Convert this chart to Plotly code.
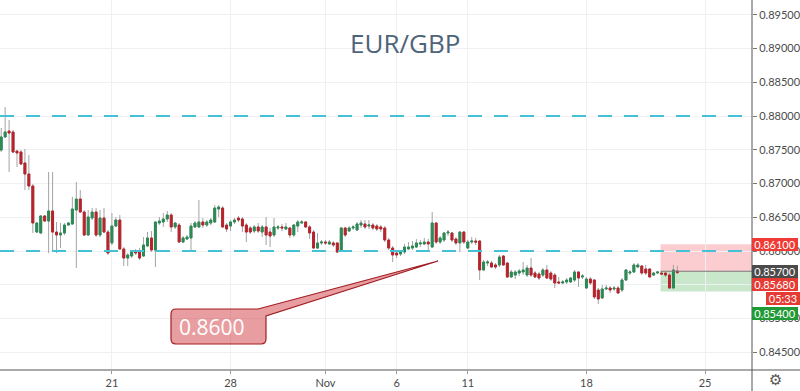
import plotly.graph_objects as go
import pandas as pd

# ---------------- data (EUR/GBP, 4H candles) ----------------
open_ = [
0.87496, 0.87689, 0.87778, 0.87763, 0.87481, 0.87467, 0.87304, 0.87141, 0.86963, 0.86281,
0.86267, 0.86519, 0.86444, 0.86593, 0.86281, 0.86237, 0.86267, 0.86385, 0.86400, 0.86607,
0.86770, 0.86578, 0.86237, 0.86489, 0.86578, 0.86237, 0.86489, 0.86281, 0.86119, 0.86370,
0.86459, 0.86030, 0.85896, 0.85926, 0.86000, 0.85985, 0.85926, 0.86074, 0.86193, 0.86015,
0.86415, 0.86430, 0.86474, 0.86533, 0.86356, 0.86385, 0.86133, 0.86178, 0.86193, 0.86356,
0.86356, 0.86430, 0.86385, 0.86415, 0.86430, 0.86622, 0.86637, 0.86385, 0.86370, 0.86430,
0.86489, 0.86474, 0.86385, 0.86341, 0.86296, 0.86356, 0.86281, 0.86356, 0.86281, 0.86237,
0.86341, 0.86356, 0.86326, 0.86341, 0.86237, 0.86370, 0.86415, 0.86430, 0.86356, 0.86281,
0.86044, 0.86119, 0.86133, 0.86104, 0.86119, 0.86119, 0.86015, 0.86341, 0.86296, 0.86341,
0.86311, 0.86385, 0.86400, 0.86370, 0.86385, 0.86370, 0.86356, 0.86341, 0.86163, 0.86044,
0.85970, 0.85956, 0.85985, 0.86030, 0.86044, 0.86059, 0.86104, 0.86104, 0.86133, 0.86059,
0.86415, 0.86133, 0.86163, 0.86267, 0.86267, 0.86178, 0.86119, 0.86281, 0.86044, 0.86133,
0.86148, 0.86148, 0.85719, 0.85822, 0.85822, 0.85793, 0.85793, 0.85926, 0.85822, 0.85615,
0.85644, 0.85674, 0.85689, 0.85644, 0.85748, 0.85674, 0.85659, 0.85644, 0.85719, 0.85674,
0.85644, 0.85541, 0.85526, 0.85541, 0.85541, 0.85570, 0.85689, 0.85615, 0.85452, 0.85585,
0.85570, 0.85422, 0.85304, 0.85437, 0.85452, 0.85437, 0.85452, 0.85422, 0.85570, 0.85674,
0.85689, 0.85763, 0.85778, 0.85733, 0.85733, 0.85644, 0.85674, 0.85674, 0.85674, 0.85644,
0.85452, 0.85704]

high_ = [
0.87822, 0.88133, 0.87941, 0.87793, 0.87496, 0.87496, 0.87511, 0.87422, 0.86993, 0.86430,
0.86533, 0.86533, 0.87170, 0.87170, 0.86430, 0.86415, 0.86415, 0.86430, 0.86800, 0.87022,
0.86904, 0.86607, 0.86607, 0.86637, 0.86637, 0.86607, 0.86637, 0.86311, 0.86563, 0.86504,
0.86533, 0.86059, 0.85970, 0.86000, 0.86030, 0.86044, 0.86207, 0.86281, 0.86296, 0.86430,
0.86504, 0.86563, 0.86593, 0.86563, 0.86430, 0.86415, 0.86222, 0.86237, 0.86415, 0.86444,
0.86756, 0.86489, 0.86459, 0.86489, 0.86681, 0.86681, 0.86667, 0.86415, 0.86459, 0.86489,
0.86519, 0.86504, 0.86415, 0.86370, 0.86385, 0.86415, 0.86385, 0.86504, 0.86341, 0.86489,
0.86385, 0.86400, 0.86415, 0.86356, 0.86400, 0.86459, 0.86459, 0.86444, 0.86385, 0.86311,
0.86267, 0.86163, 0.86163, 0.86163, 0.86148, 0.86133, 0.86356, 0.86356, 0.86370, 0.86385,
0.86430, 0.86459, 0.86459, 0.86459, 0.86415, 0.86400, 0.86385, 0.86370, 0.86193, 0.86074,
0.86000, 0.86015, 0.86104, 0.86133, 0.86148, 0.86178, 0.86163, 0.86193, 0.86178, 0.86578,
0.86430, 0.86222, 0.86281, 0.86311, 0.86281, 0.86207, 0.86296, 0.86296, 0.86163, 0.86207,
0.86193, 0.86163, 0.85867, 0.85867, 0.85852, 0.85822, 0.85941, 0.85941, 0.85837, 0.85719,
0.85719, 0.85733, 0.85837, 0.85793, 0.85896, 0.85704, 0.85689, 0.85748, 0.85793, 0.85704,
0.85674, 0.85615, 0.85570, 0.85600, 0.85615, 0.85719, 0.85704, 0.85659, 0.85615, 0.85615,
0.85585, 0.85452, 0.85496, 0.85496, 0.85481, 0.85481, 0.85481, 0.85600, 0.85733, 0.85719,
0.85822, 0.85822, 0.85793, 0.85793, 0.85748, 0.85689, 0.85704, 0.85704, 0.85689, 0.85674,
0.85793, 0.85778]

low_ = [
0.87467, 0.87674, 0.87170, 0.87452, 0.87244, 0.87274, 0.86904, 0.86904, 0.86267, 0.86267,
0.86252, 0.86430, 0.85970, 0.85985, 0.85970, 0.86044, 0.86237, 0.86370, 0.86385, 0.85748,
0.86563, 0.86222, 0.86222, 0.86459, 0.86207, 0.86207, 0.86267, 0.85941, 0.86089, 0.86356,
0.86015, 0.85778, 0.85778, 0.85896, 0.85941, 0.85867, 0.85911, 0.86059, 0.85985, 0.85763,
0.86385, 0.86356, 0.86430, 0.86281, 0.86326, 0.86119, 0.86119, 0.86163, 0.85985, 0.86341,
0.86341, 0.86341, 0.86356, 0.86385, 0.86415, 0.86504, 0.86341, 0.86281, 0.86296, 0.86400,
0.86430, 0.86281, 0.86133, 0.86252, 0.86267, 0.86267, 0.86207, 0.86089, 0.86059, 0.86207,
0.86311, 0.86296, 0.86311, 0.86193, 0.86207, 0.86281, 0.86400, 0.86341, 0.86178, 0.86030,
0.86030, 0.86089, 0.86089, 0.86089, 0.86059, 0.85970, 0.86000, 0.86207, 0.86281, 0.86311,
0.86296, 0.86341, 0.86326, 0.86326, 0.86311, 0.86296, 0.86281, 0.86133, 0.86015, 0.85837,
0.85896, 0.85926, 0.85956, 0.86015, 0.86015, 0.86044, 0.86059, 0.86089, 0.86015, 0.86044,
0.86104, 0.86104, 0.86133, 0.86222, 0.86133, 0.86089, 0.85985, 0.86104, 0.86030, 0.86104,
0.86089, 0.85570, 0.85704, 0.85778, 0.85748, 0.85733, 0.85763, 0.85778, 0.85600, 0.85600,
0.85585, 0.85630, 0.85644, 0.85615, 0.85615, 0.85600, 0.85570, 0.85615, 0.85585, 0.85556,
0.85452, 0.85511, 0.85511, 0.85511, 0.85526, 0.85541, 0.85467, 0.85585, 0.85437, 0.85496,
0.85289, 0.85215, 0.85289, 0.85422, 0.85378, 0.85407, 0.85363, 0.85393, 0.85556, 0.85644,
0.85674, 0.85748, 0.85644, 0.85644, 0.85615, 0.85630, 0.85659, 0.85644, 0.85615, 0.85437,
0.85437, 0.85659]

close_ = [
0.87689, 0.87763, 0.87748, 0.87467, 0.87452, 0.87289, 0.87141, 0.86963, 0.86415, 0.86415,
0.86519, 0.86444, 0.86593, 0.86281, 0.86237, 0.86267, 0.86385, 0.86415, 0.86622, 0.86770,
0.86578, 0.86237, 0.86504, 0.86578, 0.86237, 0.86489, 0.86281, 0.85970, 0.86370, 0.86459,
0.86030, 0.85896, 0.85941, 0.85985, 0.85970, 0.85896, 0.86089, 0.86193, 0.86015, 0.86430,
0.86444, 0.86474, 0.86533, 0.86356, 0.86415, 0.86133, 0.86193, 0.86207, 0.86370, 0.86415,
0.86430, 0.86385, 0.86430, 0.86459, 0.86637, 0.86652, 0.86356, 0.86326, 0.86430, 0.86459,
0.86459, 0.86370, 0.86281, 0.86281, 0.86356, 0.86296, 0.86356, 0.86237, 0.86222, 0.86356,
0.86356, 0.86341, 0.86356, 0.86237, 0.86385, 0.86430, 0.86430, 0.86356, 0.86267, 0.86044,
0.86119, 0.86133, 0.86119, 0.86133, 0.86089, 0.85985, 0.86341, 0.86237, 0.86341, 0.86356,
0.86400, 0.86415, 0.86356, 0.86385, 0.86341, 0.86326, 0.86326, 0.86163, 0.86044, 0.85941,
0.85941, 0.85985, 0.86059, 0.86059, 0.86074, 0.86119, 0.86119, 0.86133, 0.86104, 0.86415,
0.86133, 0.86193, 0.86267, 0.86281, 0.86163, 0.86119, 0.86281, 0.86133, 0.86133, 0.86148,
0.86133, 0.85719, 0.85837, 0.85837, 0.85763, 0.85763, 0.85911, 0.85793, 0.85615, 0.85689,
0.85689, 0.85704, 0.85719, 0.85748, 0.85644, 0.85615, 0.85600, 0.85719, 0.85600, 0.85585,
0.85526, 0.85526, 0.85541, 0.85570, 0.85600, 0.85689, 0.85600, 0.85630, 0.85585, 0.85526,
0.85319, 0.85289, 0.85437, 0.85452, 0.85422, 0.85452, 0.85378, 0.85570, 0.85719, 0.85689,
0.85793, 0.85793, 0.85674, 0.85674, 0.85615, 0.85674, 0.85689, 0.85659, 0.85644, 0.85452,
0.85719, 0.85680]

first_bar = "2019-10-14 08:00"
x_range = ["2019-10-14 06:48", "2019-11-26 23:30"]
x_tick_dates = ["2019-10-21", "2019-10-28", "2019-11-01", "2019-11-06",
                "2019-11-11", "2019-11-18", "2019-11-25"]
x_tick_text = ["21", "28", "Nov", "6", "11", "18", "25"]
y_range = [0.84237, 0.89719]
y_ticks = [0.845, 0.850, 0.855, 0.860, 0.865, 0.870, 0.875, 0.880, 0.885, 0.890, 0.895]
y_hidden = [0.855]  # fully covered by the price labels in the original
levels = [0.880, 0.860]
stop_price, entry_price, target_price = 0.861, 0.857, 0.854
last_price = 0.8568
position_start, position_end = "2019-11-21 03:00", "2019-11-29 00:00"
callout_text = "0.8600"

# 4H bar timestamps, trading days only
slots = pd.date_range(first_bar, periods=400, freq="4h")
dates = [d.strftime("%Y-%m-%d %H:%M") for d in slots if d.weekday() < 5][:len(close_)]
y_tick_text = ["" if v in y_hidden else f"{v:.5f}" for v in y_ticks]

# ---------------- style ----------------
W, H = 800, 391
ML, MR, MT, MB = 0, 48, 0, 21
PW, PH = W - ML - MR, H - MT - MB
FONT = "Lato"
UP, DOWN, WICK = "#2a8a55", "#b8232b", "#a3a3a3"
GRID = "#eef0f3"
CYAN = "#45c0d5"
AXIS = "#555555"
TXT = "#4a4a4a"


def px(x):
    return x / PW


def py(y):
    return 1 - y / PH


fig = go.Figure()
fig.add_trace(go.Candlestick(
    x=dates, open=open_, high=high_, low=low_, close=close_,
    increasing=dict(line=dict(color=WICK, width=1), fillcolor=WICK),
    decreasing=dict(line=dict(color=WICK, width=1), fillcolor=WICK),
    hoverinfo="skip", showlegend=False))
body_hi = [max(o, c) for o, c in zip(open_, close_)]
body_lo = [min(o, c) for o, c in zip(open_, close_)]
fig.add_trace(go.Candlestick(
    x=dates, open=open_, high=body_hi, low=body_lo, close=close_,
    increasing=dict(line=dict(color=UP, width=1), fillcolor=UP),
    decreasing=dict(line=dict(color=DOWN, width=1), fillcolor=DOWN),
    showlegend=False))

# position tool (stop / target zones)
fig.add_shape(type="rect", xref="x", yref="y", x0=position_start, x1=position_end,
              y0=entry_price, y1=stop_price, fillcolor="rgba(242,54,69,0.25)",
              line=dict(width=0), layer="below")
fig.add_shape(type="rect", xref="x", yref="y", x0=position_start, x1=position_end,
              y0=target_price, y1=entry_price, fillcolor="rgba(76,175,80,0.30)",
              line=dict(width=0), layer="below")
fig.add_shape(type="line", xref="x", yref="y", x0=position_start, x1=position_end,
              y0=entry_price, y1=entry_price, line=dict(color="#7a7a7a", width=1))

# horizontal dashed levels
for lv in levels:
    fig.add_shape(type="line", xref="paper", yref="y", x0=0, x1=1, y0=lv, y1=lv,
                  line=dict(color=CYAN, width=2, dash="14px,12px"))

# axis frame extensions
fig.add_shape(type="line", xref="paper", yref="paper", x0=0, x1=W / PW, y0=0, y1=0,
              line=dict(color=AXIS, width=1))
fig.add_shape(type="line", xref="paper", yref="paper", x0=1, x1=1, y0=-MB / PH, y1=1,
              line=dict(color=AXIS, width=1))

# callout
L, R, T, B, r = 171, 266, 309, 344, 5
tip = (438, 261)
def P(x, y):
    return f"{px(x):.5f},{py(y):.5f}"
path = (f"M {P(L + r, T)} L {P(258, T)} L {P(*tip)} L {P(R, T + 7)} "
        f"L {P(R, B - r)} Q {P(R, B)} {P(R - r, B)} L {P(L + r, B)} "
        f"Q {P(L, B)} {P(L, B - r)} L {P(L, T + r)} Q {P(L, T)} {P(L + r, T)} Z")
fig.add_shape(type="path", xref="paper", yref="paper", path=path,
              fillcolor="rgba(204,40,45,0.45)", line=dict(color="#a11d22", width=1.2))
fig.add_annotation(xref="paper", yref="paper", x=px(212), y=py(326.5), text=callout_text,
                   showarrow=False, xanchor="center", yanchor="middle",
                   font=dict(family="Open Sans", size=21, color="white"))

# title
fig.add_annotation(xref="paper", yref="paper", x=px(405), y=py(43), text="EUR/GBP",
                   showarrow=False, xanchor="center", yanchor="middle",
                   font=dict(family="Open Sans", size=26, color="#4e6478"))


def price_label(text, y, bg, yshift=0, x=1.0, xanchor="left", width=46):
    fig.add_annotation(xref="paper", yref="y", x=x, y=y, yshift=yshift, text=text,
                       showarrow=False, xanchor=xanchor, yanchor="middle", bgcolor=bg,
                       font=dict(family=FONT, size=11, color="white"), width=width,
                       height=13, borderpad=0, borderwidth=0, align="center")


price_label(f"{stop_price:.5f}", stop_price, "#ef3a35")
price_label(f"{entry_price:.5f}", entry_price, "#4b4b4b")
price_label(f"{last_price:.5f}", last_price, "#e53b33", yshift=-12)
price_label("05:33", last_price, "#e53b33", yshift=-26, x=W / PW, xanchor="right", width=34)
price_label(f"{target_price:.5f}", target_price, "#1f9a35", yshift=-21.5)

# settings gear
fig.add_annotation(xref="paper", yref="paper", x=px(775), y=py(380), text="⚙",
                   showarrow=False, xanchor="center", yanchor="middle",
                   font=dict(family="DejaVu Sans", size=15, color="#555"))

fig.update_layout(
    template="none",
    width=W, height=H,
    margin=dict(l=ML, r=MR, t=MT, b=MB, pad=0),
    paper_bgcolor="white", plot_bgcolor="white",
    showlegend=False, boxmode="overlay",
    font=dict(family=FONT, size=11, color=TXT),
    xaxis=dict(type="date", range=x_range, rangebreaks=[dict(bounds=["sat", "mon"])],
               tickvals=x_tick_dates, ticktext=x_tick_text,
               showgrid=True, gridcolor=GRID, gridwidth=1,
               ticks="outside", ticklen=3, tickcolor="#999",
               showline=False, zeroline=False, automargin=False,
               rangeslider=dict(visible=False),
               tickfont=dict(family=FONT, size=11, color=TXT)),
    yaxis=dict(side="right", range=y_range, tickvals=y_ticks, ticktext=y_tick_text,
               showgrid=True, gridcolor=GRID, gridwidth=1,
               ticks="outside", ticklen=4, tickcolor="#777",
               showline=False, zeroline=False, automargin=False,
               tickfont=dict(family=FONT, size=11, color=TXT)),
)

fig.write_html("out.html", config={"displayModeBar": False},
               post_script="document.body.style.margin='0';")
